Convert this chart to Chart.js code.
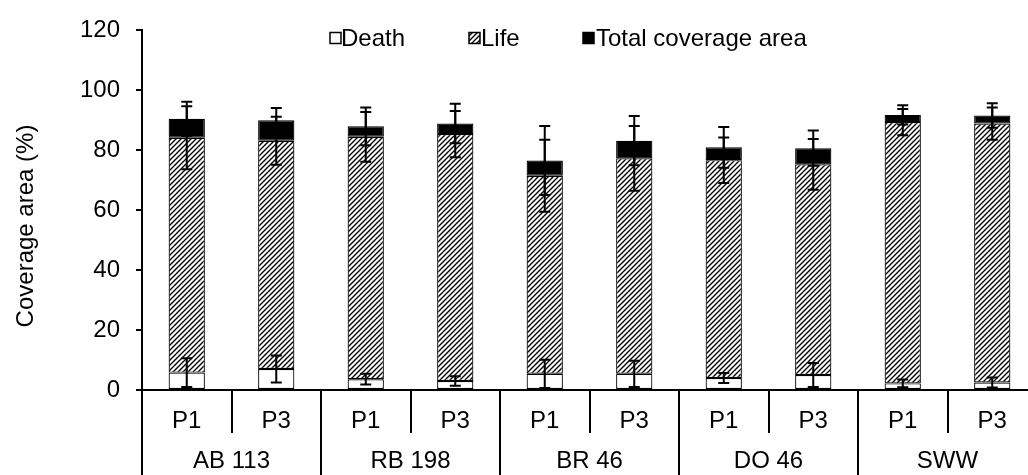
<!DOCTYPE html>
<html>
<head>
<meta charset="utf-8">
<script src="https://cdn.jsdelivr.net/npm/chart.js@4.4.1/dist/chart.umd.min.js"></script>
<style>
  html, body { margin: 0; padding: 0; background: #fff; overflow: hidden; }
  canvas { display: block; }
</style>
</head>
<body>
<canvas id="coverageChart" width="1045" height="475"></canvas>
<script>
// Treatment groups and sampling periods
const groups = ['AB 113', 'RB 198', 'BR 46', 'DO 46', 'SWW'];
const periods = ['P1', 'P3'];

// Coverage values (%) per bar, in group order P1, P3
const deathVals = [5.8, 7.0, 3.6, 3.0, 5.4, 5.4, 4.0, 5.0, 2.2, 2.5];
const lifeVals = [78.4, 76.2, 80.9, 82.4, 66.1, 71.9, 72.7, 70.3, 87.2, 86.4];
const totalVals = [90.5, 90.0, 88.0, 88.9, 76.6, 83.2, 81.0, 80.7, 91.8, 91.6];

// Standard deviations
const deathErr = [4.8, 4.5, 1.8, 1.6, 4.7, 4.4, 1.7, 4.0, 1.3, 1.7];
const lifeErr = [10.5, 8.0, 8.3, 7.7, 12.0, 10.8, 7.6, 8.5, 4.4, 5.4];
const totalErr = [5.7, 4.1, 6.3, 6.6, 11.5, 8.2, 6.8, 5.9, 3.2, 4.1];

const yTicks = [0, 20, 40, 60, 80, 100, 120];

const FONT = '"Liberation Sans", Arial, sans-serif';
const FONT_SIZE = 24;

const barLabels = groups.flatMap(() => periods);
// black top block is what is left above death + life
const topVals = totalVals.map((t, i) => +(t - deathVals[i] - lifeVals[i]).toFixed(2));

// Diagonal hatch fill for the "Life" series
function makeHatch() {
    const size = 5;
    const c = document.createElement('canvas');
    c.width = size;
    c.height = size;
    const g = c.getContext('2d');
    g.fillStyle = '#fff';
    g.fillRect(0, 0, size, size);
    g.strokeStyle = '#000';
    g.lineWidth = 1.4;
    g.beginPath();
    g.moveTo(-1, size + 1);
    g.lineTo(size + 1, -1);
    g.moveTo(-1, 1);
    g.lineTo(1, -1);
    g.moveTo(size - 1, size + 1);
    g.lineTo(size + 1, size - 1);
    g.stroke();
    return g.createPattern(c, 'repeat');
}
const hatch = makeHatch();

// Error bars drawn at the top of each stacked segment
const errorBarsPlugin = {
    id: 'errorBars',
    afterDatasetsDraw(chart) {
        const ctx = chart.ctx;
        const y = chart.scales.y;
        const unit = y.getPixelForValue(0) - y.getPixelForValue(1);
        ctx.save();
        ctx.strokeStyle = '#000';
        ctx.lineWidth = 2;
        chart.data.datasets.forEach((ds, d) => {
            const meta = chart.getDatasetMeta(d);
            meta.data.forEach((bar, i) => {
                const e = ds.errors[i] * unit;
                const x = bar.x;
                const top = bar.y;
                ctx.beginPath();
                ctx.moveTo(x, top - e);
                ctx.lineTo(x, top + e);
                ctx.moveTo(x - 5.5, top - e);
                ctx.lineTo(x + 5.5, top - e);
                ctx.moveTo(x - 5.5, top + e);
                ctx.lineTo(x + 5.5, top + e);
                ctx.stroke();
            });
        });
        ctx.restore();
    }
};

// Category separators, group names, legend and y-axis title
const decorPlugin = {
    id: 'decor',
    afterDraw(chart) {
        const ctx = chart.ctx;
        const x = chart.scales.x;
        const area = chart.chartArea;
        const step = x.getPixelForValue(1) - x.getPixelForValue(0);
        ctx.save();
        ctx.strokeStyle = '#000';
        ctx.lineWidth = 2;
        for (let i = 0; i <= barLabels.length; i++) {
            const px = Math.round(x.getPixelForValue(0) - step / 2 + i * step);
            const bottom = i % 2 === 0 ? chart.height : area.bottom + 43;
            ctx.beginPath();
            ctx.moveTo(px, area.bottom);
            ctx.lineTo(px, bottom);
            ctx.stroke();
        }

        ctx.fillStyle = '#000';
        ctx.font = FONT_SIZE + 'px ' + FONT;
        ctx.textAlign = 'center';
        ctx.textBaseline = 'middle';
        groups.forEach((g, i) => {
            const cx = (x.getPixelForValue(i * 2) + x.getPixelForValue(i * 2 + 1)) / 2;
            ctx.fillText(g, cx, 461);
        });

        // legend
        const items = [
            { label: 'Death', fill: '#fff', boxX: 330, textX: 341 },
            { label: 'Life', fill: hatch, boxX: 469, textX: 481 },
            { label: 'Total coverage area', fill: '#000', boxX: 583, textX: 596 }
        ];
        const ly = 38;
        ctx.textAlign = 'left';
        items.forEach(it => {
            ctx.fillStyle = it.fill;
            ctx.fillRect(it.boxX, ly - 5.5, 11, 11);
            ctx.lineWidth = 1.5;
            ctx.strokeStyle = '#000';
            ctx.strokeRect(it.boxX, ly - 5.5, 11, 11);
            ctx.fillStyle = '#000';
            ctx.fillText(it.label, it.textX, ly + 1);
        });

        // y-axis title
        ctx.translate(26, 226);
        ctx.rotate(-Math.PI / 2);
        ctx.textAlign = 'center';
        ctx.fillText('Coverage area (%)', 0, 0);
        ctx.restore();
    }
};

// Bottom axis line continues down the left edge
const axisExtendPlugin = {
    id: 'axisExtend',
    afterDraw(chart) {
        const ctx = chart.ctx;
        const area = chart.chartArea;
        ctx.save();
        ctx.strokeStyle = '#000';
        ctx.lineWidth = 2;
        ctx.beginPath();
        ctx.moveTo(area.left, area.bottom);
        ctx.lineTo(area.left, chart.height);
        ctx.stroke();
        ctx.restore();
    }
};

const commonBar = {
    borderColor: '#000',
    borderWidth: 1.2,
    borderSkipped: false,
    barPercentage: 0.405,
    categoryPercentage: 1.0
};

new Chart(document.getElementById('coverageChart').getContext('2d'), {
    type: 'bar',
    data: {
        labels: barLabels,
        datasets: [
            Object.assign({ label: 'Death', data: deathVals, backgroundColor: '#fff', errors: deathErr }, commonBar),
            Object.assign({ label: 'Life', data: lifeVals, backgroundColor: hatch, errors: lifeErr }, commonBar),
            Object.assign({ label: 'Total coverage area', data: topVals, backgroundColor: '#000', errors: totalErr }, commonBar)
        ]
    },
    options: {
        responsive: false,
        animation: false,
        devicePixelRatio: 1,
        layout: {
            padding: { top: 21, right: 8, left: 0, bottom: 0 }
        },
        plugins: {
            legend: { display: false },
            tooltip: { enabled: false }
        },
        scales: {
            x: {
                stacked: true,
                offset: true,
                grid: { display: false },
                border: { display: true, color: '#000', width: 2 },
                ticks: {
                    color: '#000',
                    padding: 9,
                    maxRotation: 0,
                    font: { family: FONT, size: FONT_SIZE }
                },
                afterFit(scale) { scale.height = 85; }
            },
            y: {
                stacked: true,
                min: 0,
                max: 120,
                afterBuildTicks(scale) {
                    scale.ticks = yTicks.map(v => ({ value: v }));
                },
                grid: {
                    drawOnChartArea: false,
                    drawTicks: true,
                    tickLength: 6,
                    color: '#000',
                    lineWidth: 2
                },
                border: { display: true, color: '#000', width: 2 },
                ticks: {
                    color: '#000',
                    padding: 16,
                    font: { family: FONT, size: FONT_SIZE }
                },
                afterFit(scale) { scale.width = 142; }
            }
        }
    },
    plugins: [errorBarsPlugin, decorPlugin, axisExtendPlugin]
});
</script>
</body>
</html>
